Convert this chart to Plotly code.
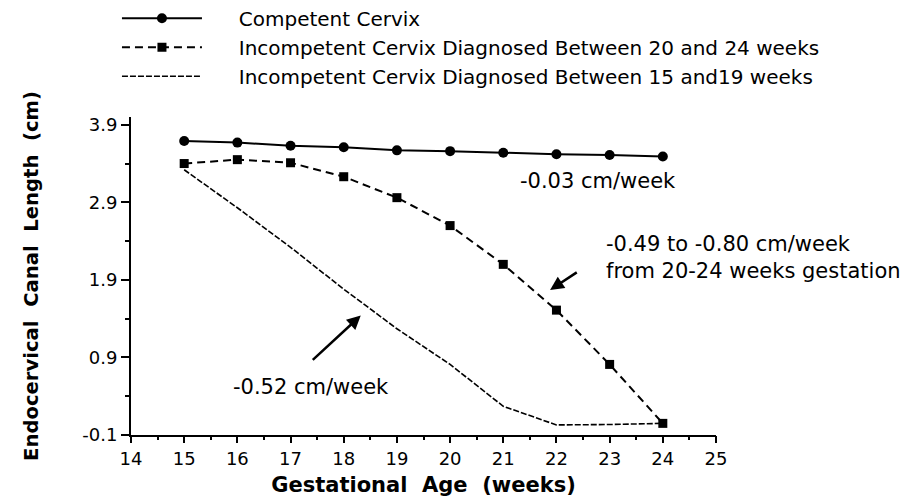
import plotly.graph_objects as go

weeks = [15, 16, 17, 18, 19, 20, 21, 22, 23, 24]
competent = [3.69, 3.67, 3.63, 3.61, 3.57, 3.56, 3.54, 3.52, 3.51, 3.49]
incomp_20_24 = [3.40, 3.45, 3.41, 3.23, 2.96, 2.60, 2.10, 1.51, 0.81, 0.05]
incomp_15_19 = [3.32, 2.83, 2.32, 1.78, 1.27, 0.81, 0.27, 0.03, 0.035, 0.05]

names = ["Competent Cervix",
         "Incompetent Cervix Diagnosed Between 20 and 24 weeks",
         "Incompetent Cervix Diagnosed Between 15 and19 weeks"]

y_ticks = [-0.1, 0.9, 1.9, 2.9, 3.9]
y_ticklabels = ["-0.1", "0.9", "1.9", "2.9", "3.9"]
x_ticks = list(range(14, 26))
X_RANGE = [14, 25]
Y_RANGE = [-0.1, 4.0]

FONT = "DejaVu Sans"
PAD = "\u00a0" * 5

fig = go.Figure()
fig.add_trace(go.Scatter(x=weeks, y=competent, name=PAD + names[0], mode="lines+markers",
                         line=dict(color="black", width=2),
                         marker=dict(symbol="circle", size=10, color="black")))
fig.add_trace(go.Scatter(x=weeks, y=incomp_20_24, name=PAD + names[1], mode="lines+markers",
                         line=dict(color="black", width=2, dash="8px,5px"),
                         marker=dict(symbol="square", size=9, color="black")))
fig.add_trace(go.Scatter(x=weeks, y=incomp_15_19, name=PAD + names[2], mode="lines",
                         line=dict(color="black", width=1.6, dash="6px,2px")))
# empty trace to carry the minor-tick overlay axes
fig.add_trace(go.Scatter(x=[], y=[], xaxis="x2", yaxis="y2", showlegend=False, hoverinfo="skip"))

ann = [
    dict(x=22.79, y=3.18, text="-0.03 cm/week", showarrow=False, xanchor="center", yanchor="middle",
         font=dict(size=21)),
    dict(x=22.90, y=2.19, text="-0.49 to -0.80 cm/week<br>from 20-24 weeks gestation", showarrow=False,
         xanchor="left", yanchor="middle", align="left", font=dict(size=21)),
    dict(x=17.39, y=0.515, text="-0.52 cm/week", showarrow=False, xanchor="center", yanchor="middle",
         font=dict(size=21)),
    dict(x=18.32, y=1.44, ax=17.39, ay=0.85, axref="x", ayref="y", text="", showarrow=True,
         arrowhead=2, arrowsize=1.1, arrowwidth=2.5, arrowcolor="black"),
    dict(x=21.88, y=1.77, ax=22.41, ay=2.01, axref="x", ayref="y", text="", showarrow=True,
         arrowhead=2, arrowsize=1.1, arrowwidth=2.5, arrowcolor="black"),
]

fig.update_layout(
    width=911, height=497,
    margin=dict(l=123, r=203, t=109, b=70, autoexpand=False),
    paper_bgcolor="white", plot_bgcolor="white",
    font=dict(family=FONT, color="black", size=17),
    showlegend=True,
    legend=dict(x=-0.024, y=1.372, xanchor="left", yanchor="top",
                font=dict(size=20), itemwidth=80, tracegroupgap=0, bgcolor="rgba(0,0,0,0)",
                traceorder="normal"),
    annotations=ann,
    xaxis=dict(range=X_RANGE, tickmode="array", tickvals=x_ticks, showgrid=False, zeroline=False,
               showline=True, linecolor="black", linewidth=2,
               ticks="outside", ticklen=6, tickwidth=2, tickcolor="black",
               tickfont=dict(size=18),
               title=dict(text="<b>Gestational\u00a0\u00a0Age\u00a0\u00a0(weeks)</b>", font=dict(size=21),
                          standoff=10)),
    yaxis=dict(range=Y_RANGE, tickmode="array", tickvals=y_ticks, ticktext=y_ticklabels,
               showgrid=False, zeroline=False,
               showline=True, linecolor="black", linewidth=2,
               ticks="outside", ticklen=8, tickwidth=2, tickcolor="black",
               tickfont=dict(size=18),
               title=dict(text="<b>Endocervical\u00a0\u00a0Canal\u00a0\u00a0Length\u00a0\u00a0(cm)</b>",
                          font=dict(size=19.6), standoff=38)),
    xaxis2=dict(range=X_RANGE, overlaying="x", anchor="y2", side="bottom", tickmode="linear",
                tick0=14, dtick=0.5, ticks="outside", ticklen=4, tickwidth=1.5, tickcolor="black",
                showticklabels=False, showline=False, showgrid=False, zeroline=False),
    yaxis2=dict(range=Y_RANGE, overlaying="y", anchor="x2", side="left", tickmode="linear",
                tick0=-0.1, dtick=0.5, ticks="outside", ticklen=5, tickwidth=1.5, tickcolor="black",
                showticklabels=False, showline=False, showgrid=False, zeroline=False),
)

fig.write_html("out.html")
